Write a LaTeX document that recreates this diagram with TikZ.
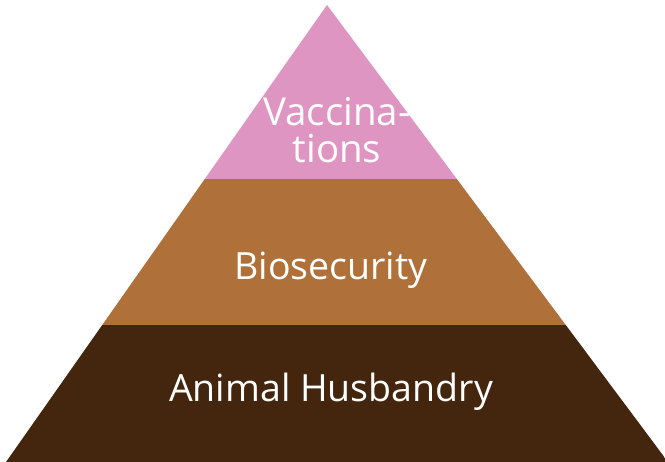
\documentclass[tikz,border=0pt]{standalone}
\usepackage{fontspec}
\setmainfont{Open Sans}
\definecolor{pk}{RGB}{222,149,194}
\definecolor{br}{RGB}{176,112,57}
\definecolor{dk}{RGB}{67,38,13}
\begin{document}
\begin{tikzpicture}[x=1pt,y=-1pt,
  lbl/.style={text=white,font=\fontsize{37.5}{38}\selectfont,align=center,inner sep=0pt}]
\useasboundingbox (0,0) rectangle (665,462);
\begin{scope}
\clip (327,5) -- (6,462) -- (668,462) -- cycle;
\fill[pk] (0,0) rectangle (665,179);
\fill[br] (0,179) rectangle (665,325);
\fill[dk] (0,325) rectangle (665,462);
\end{scope}
\node[lbl,font=\fontsize{38.5}{37}\selectfont] (v) at (337,130) {Vaccina-\\tions};
\node[lbl] (b) at (331,270) {Biosecurity};
\node[lbl] (a) at (331,392) {Animal Husbandry};
\end{tikzpicture}
\end{document}
